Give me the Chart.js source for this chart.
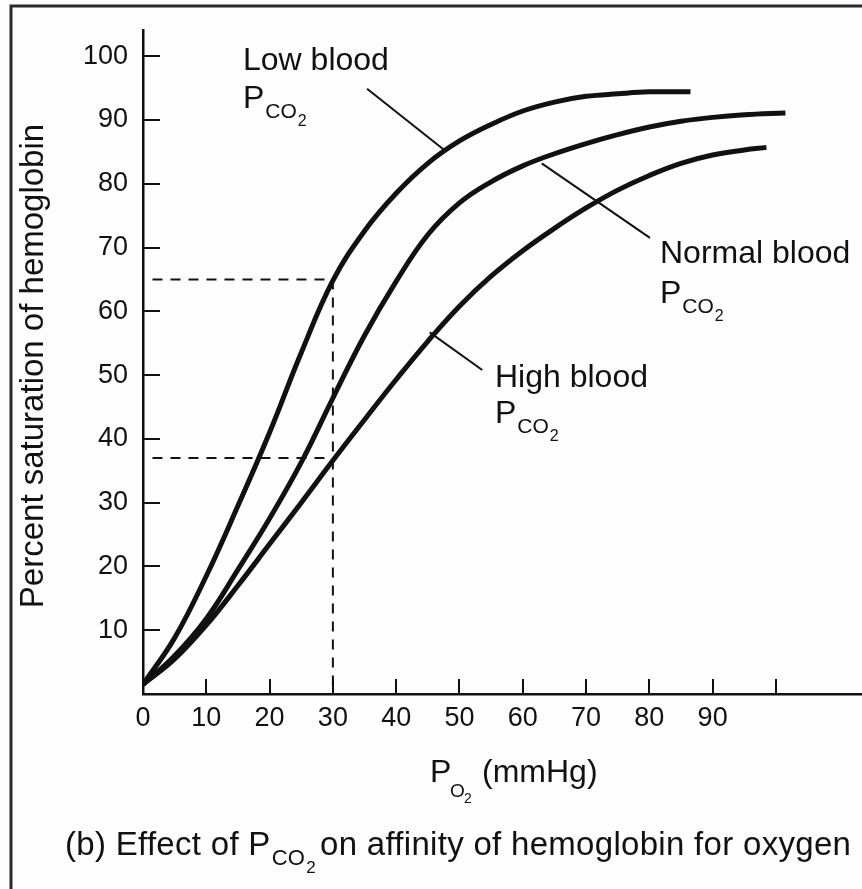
<!DOCTYPE html>
<html>
<head>
<meta charset="utf-8">
<title>Effect of PCO2 on affinity of hemoglobin for oxygen</title>
<script src="https://cdn.jsdelivr.net/npm/chart.js@4.4.0/dist/chart.umd.min.js"></script>
<style>
  html, body { margin: 0; padding: 0; background: #fff; }
  #wrap { position: relative; width: 862px; height: 889px; }
</style>
</head>
<body>
<div id="wrap"><canvas id="chart" width="862" height="889"></canvas></div>
<script>
// P_O2 (mmHg) vs percent saturation
const po2Low = [0, 5, 10, 15, 20, 25, 30, 35, 40, 45, 50, 55, 60, 65, 70, 75, 80, 86.5];
const satLow = [1.5, 8.8, 18.5, 29.5, 41, 53.5, 64.8, 72.6, 78.5, 83.2, 86.7, 89.3, 91.4, 92.8, 93.7, 94.1, 94.4, 94.4];

const po2Normal = [0, 5, 10, 15, 20, 25, 30, 35, 40, 45, 50, 55, 60, 65, 70, 75, 80, 85, 90, 95, 101.5];
const satNormal = [1.5, 6, 11.8, 19.5, 27.5, 36.3, 46.4, 56.2, 64.7, 72, 77, 80.3, 82.8, 84.7, 86.3, 87.7, 88.9, 89.8, 90.4, 90.8, 91.1];

const po2High = [0, 5, 10, 15, 20, 25, 30, 35, 40, 45, 50, 55, 60, 65, 70, 75, 80, 85, 90, 95, 98.5];
const satHigh = [1.5, 5.5, 10.8, 17, 23.5, 30, 36.6, 43, 49.3, 55.3, 60.8, 65.5, 69.5, 73, 76.2, 79, 81.3, 83.2, 84.5, 85.3, 85.7];

// dashed read-off lines at P_O2 = 30
const guidePo2 = 30;
const guideSat = [65, 37];

const xTicks = [0, 10, 20, 30, 40, 50, 60, 70, 80, 90, 100];
const yTicks = [0, 10, 20, 30, 40, 50, 60, 70, 80, 90, 100];

const FONT = '"Liberation Sans", Arial, sans-serif';
const INK = '#111';

function pts(xs, ys) {
    return xs.map((x, i) => ({ x: x, y: ys[i] }));
}

function curve(xs, ys) {
    return {
        data: pts(xs, ys),
        borderColor: INK,
        borderWidth: 5,
        tension: 0.4,
        pointRadius: 0,
        order: 1
    };
}

function thin(data, dash) {
    return {
        data: data,
        borderColor: INK,
        borderWidth: 2,
        borderDash: dash || [],
        pointRadius: 0,
        tension: 0,
        order: 2
    };
}

const datasets = [
    curve(po2Low, satLow),
    curve(po2Normal, satNormal),
    curve(po2High, satHigh),
    // guides
    thin([{ x: 1.5, y: guideSat[0] }, { x: guidePo2, y: guideSat[0] }], [10, 8]),
    thin([{ x: 1.5, y: guideSat[1] }, { x: guidePo2, y: guideSat[1] }], [10, 8]),
    thin([{ x: guidePo2, y: guideSat[0] }, { x: guidePo2, y: 0 }], [10, 8]),
    // label leaders
    thin([{ x: 35.4, y: 94.9 }, { x: 47.7, y: 85.2 }]),
    thin([{ x: 63.0, y: 83.2 }, { x: 80.1, y: 71.5 }]),
    thin([{ x: 45.3, y: 56.7 }, { x: 53.6, y: 50.8 }])
];

// P with a "CO2" subscript, returns x after it
function drawPsub(ctx, x, y, size, sub) {
    ctx.font = size + 'px ' + FONT;
    ctx.fillText('P', x, y);
    let cx = x + ctx.measureText('P').width + 1;
    ctx.font = Math.round(size * 0.66) + 'px ' + FONT;
    ctx.fillText(sub, cx, y + 10);
    cx += ctx.measureText(sub).width;
    ctx.font = Math.round(size * 0.5) + 'px ' + FONT;
    ctx.fillText('2', cx + 1, y + 18);
    return cx + ctx.measureText('2').width + 2;
}

const paper = {
    id: 'paper',
    beforeDraw(chart) {
        const c = chart.ctx;
        c.save();
        c.fillStyle = '#fdfdfd';
        c.fillRect(0, 0, chart.width, chart.height);
        c.restore();
    },
    afterDraw(chart) {
        const c = chart.ctx;
        const area = chart.chartArea;
        c.save();
        // frame
        c.strokeStyle = '#2a2a2a';
        c.lineWidth = 3;
        c.beginPath();
        c.moveTo(11, chart.height);
        c.lineTo(11, 6);
        c.lineTo(chart.width, 6);
        c.stroke();

        // inward tick marks
        c.strokeStyle = INK;
        c.lineWidth = 2;
        c.beginPath();
        yTicks.forEach(v => {
            if (v === 0) return;
            const py = Math.round(chart.scales.y.getPixelForValue(v));
            c.moveTo(area.left, py);
            c.lineTo(area.left + 17, py);
        });
        xTicks.forEach(v => {
            if (v === 0) return;
            const px = Math.round(chart.scales.x.getPixelForValue(v));
            c.moveTo(px, area.bottom);
            c.lineTo(px, area.bottom - 15);
        });
        c.stroke();

        c.fillStyle = INK;
        c.textAlign = 'left';
        c.textBaseline = 'alphabetic';

        // y title
        c.save();
        c.translate(43, 366);
        c.rotate(-Math.PI / 2);
        c.textAlign = 'center';
        c.font = '33px ' + FONT;
        c.fillText('Percent saturation of hemoglobin', 0, 0);
        c.restore();

        // curve labels
        c.font = '32px ' + FONT;
        c.fillText('Low blood', 243, 70);
        drawPsub(c, 243, 108, 32, 'CO');
        c.font = '32px ' + FONT;
        c.fillText('Normal blood', 660, 263);
        drawPsub(c, 660, 303, 32, 'CO');
        c.font = '32px ' + FONT;
        c.fillText('High blood', 495, 387);
        drawPsub(c, 495, 423, 32, 'CO');

        // x title: P O2 (mmHg)
        c.font = '32px ' + FONT;
        c.fillText('P', 430, 782);
        c.font = '19px ' + FONT;
        c.fillText('O', 450, 797);
        c.font = '14px ' + FONT;
        c.fillText('2', 464, 803);
        c.font = '32px ' + FONT;
        c.fillText('(mmHg)', 482, 782);

        // caption
        c.font = '33px ' + FONT;
        c.letterSpacing = '0.3px';
        const lead = '(b) Effect of ';
        c.fillText(lead, 65, 855);
        let cx = drawPsub(c, 65 + c.measureText(lead).width, 855, 33, 'CO');
        c.font = '33px ' + FONT;
        c.fillText('on affinity of hemoglobin for oxygen', cx + 3, 855);
        c.restore();
    }
};

new Chart(document.getElementById('chart'), {
    type: 'line',
    data: { datasets: datasets },
    plugins: [paper],
    options: {
        responsive: false,
        animation: false,
        layout: { padding: { top: 30, left: 0, right: 0, bottom: 0 } },
        plugins: {
            legend: { display: false },
            tooltip: { enabled: false }
        },
        scales: {
            x: {
                type: 'linear',
                min: 0,
                max: 113.6,
                afterFit: s => { s.height = 195; },
                afterBuildTicks: s => { s.ticks = xTicks.map(v => ({ value: v })); },
                grid: { display: false },
                border: { display: true, color: INK, width: 2.5 },
                ticks: {
                    padding: 0,
                    color: INK,
                    font: { family: FONT, size: 27 },
                    maxRotation: 0,
                    callback: v => (v <= 90 ? v : '')
                }
            },
            y: {
                type: 'linear',
                min: 0,
                max: 104.1,
                afterFit: s => { s.width = 143; },
                afterBuildTicks: s => { s.ticks = yTicks.map(v => ({ value: v })); },
                grid: { display: false },
                border: { display: true, color: INK, width: 2.5 },
                ticks: {
                    padding: 7,
                    color: INK,
                    font: { family: FONT, size: 27 },
                    callback: v => (v === 0 ? '' : v)
                }
            }
        }
    }
});
</script>
</body>
</html>
